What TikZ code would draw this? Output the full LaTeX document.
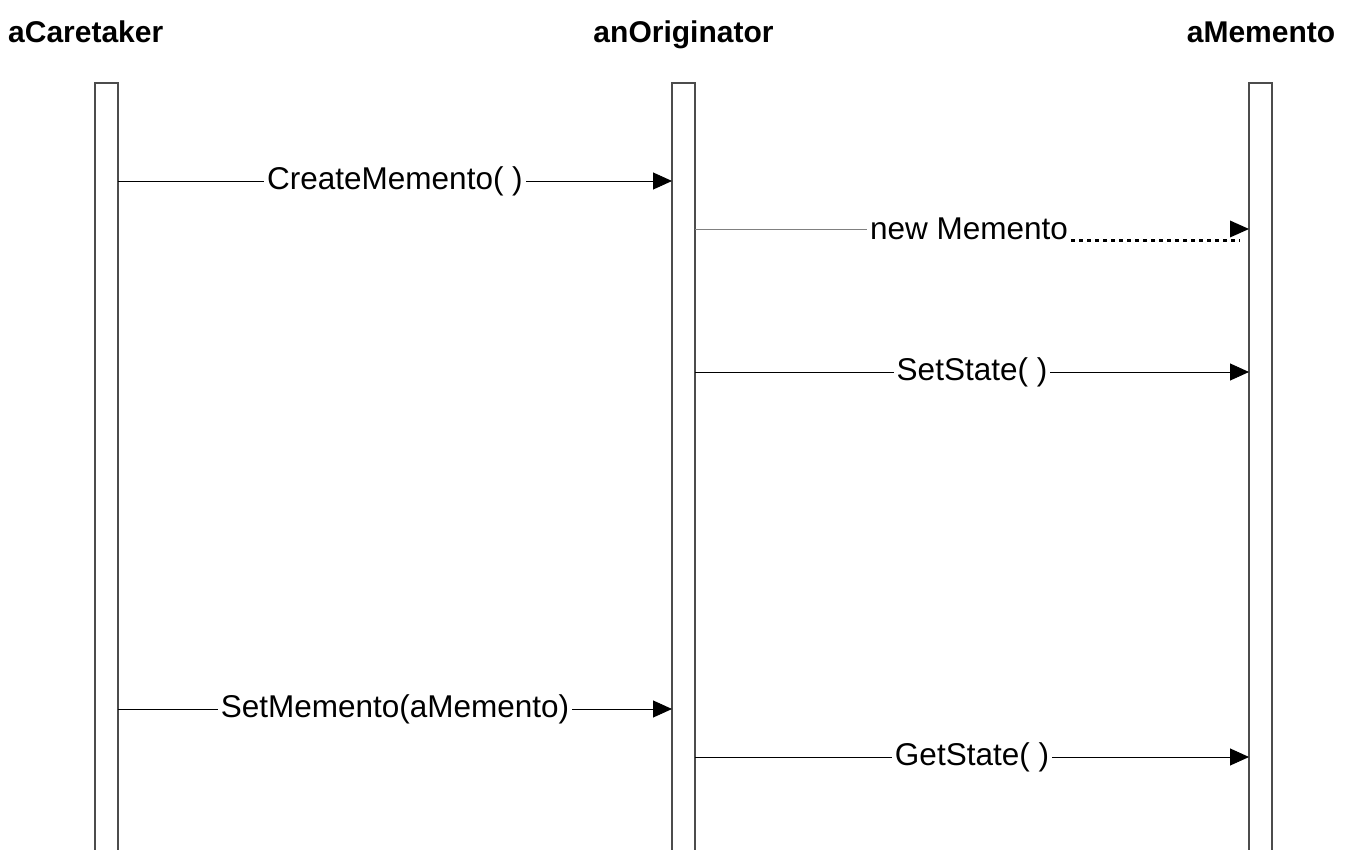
\documentclass[tikz,border=0pt]{standalone}
\usepackage{fontspec}
\setmainfont{Liberation Sans}
\usetikzlibrary{arrows.meta}

\tikzset{
  lifeline/.style={draw=black!70, line width=1.3pt},
  title/.style={font=\fontsize{30}{36}\selectfont\bfseries, inner sep=0pt},
  msg/.style={line width=0.9pt, -{Triangle[length=19pt,width=17pt]}},
  msglabel/.style={fill=white, inner xsep=3pt, inner ysep=4pt, font=\fontsize{31.5}{36}\selectfont}
}

\begin{document}
\begin{tikzpicture}[x=1pt, y=-1pt]
    \useasboundingbox (0,0) rectangle (1371,850);

    % Titel
    \node[title, anchor=base west] (tc) at (8,43) {aCaretaker};
    \node[title, anchor=base] (to) at (683.5,43) {anOriginator};
    \node[title, anchor=base] (tm) at (1261,43) {aMemento};

    % Lebenslinien
    \draw[lifeline] (95,850) -- (95,83) -- (118,83) -- (118,850);
    \draw[lifeline] (672,850) -- (672,83) -- (695,83) -- (695,850);
    \draw[lifeline] (1249,850) -- (1249,83) -- (1272,83) -- (1272,850);

    % Anschlusspunkte
    \coordinate (c1) at (118,181);
    \coordinate (o1) at (672,181);
    \coordinate (o2) at (695,229);
    \coordinate (m2) at (1249,229);
    \coordinate (o3) at (695,372);
    \coordinate (m3) at (1249,372);
    \coordinate (c4) at (118,709);
    \coordinate (o4) at (672,709);
    \coordinate (o5) at (695,757);
    \coordinate (m5) at (1249,757);

    % Nachrichten
    \draw[msg] (c1) -- node[msglabel] (l1) {CreateMemento( )} (o1);
    \draw[msg] (o3) -- node[msglabel] (l3) {SetState( )} (m3);
    \draw[msg] (c4) -- node[msglabel] (l4) {SetMemento(aMemento)} (o4);
    \draw[msg] (o5) -- node[msglabel] (l5) {GetState( )} (m5);

    % new Memento
    \node[msglabel, fill=none] (l2) at (969,229) {new Memento};
    \draw[black!50, line width=0.5pt] (o2) -- (l2.west);
    \draw[line width=3pt, dash pattern=on 3.5pt off 4.5pt] (l2.east |- 0,241) -- (1240,241);
    \fill (m2) -- ++(-19,-8.5) -- ++(0,17) -- cycle;
\end{tikzpicture}
\end{document}
